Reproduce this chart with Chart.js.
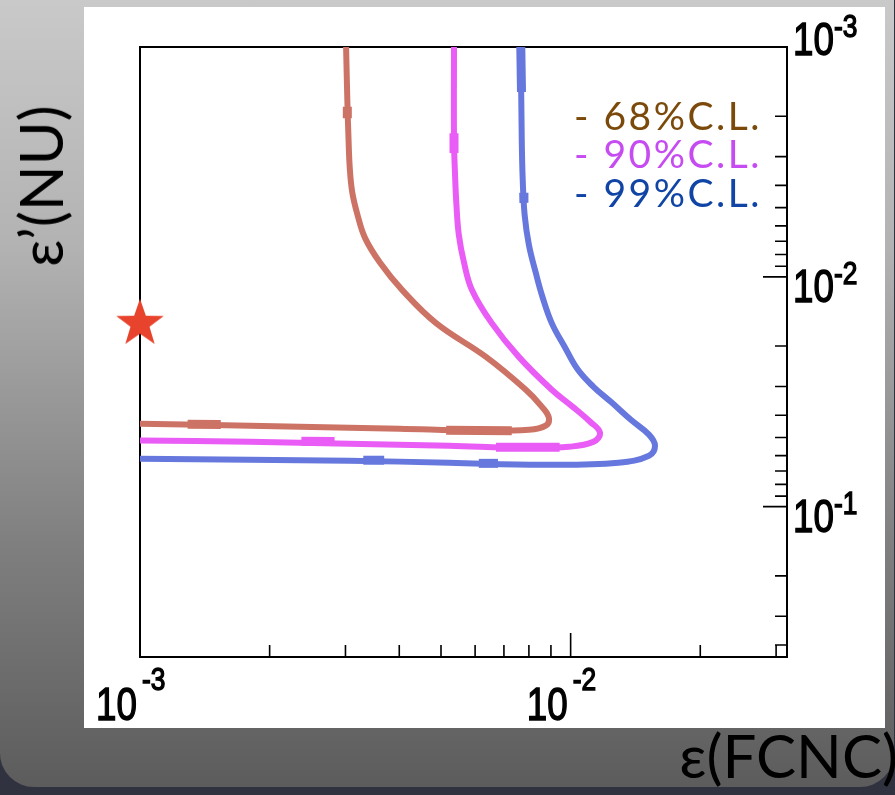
<!DOCTYPE html>
<html>
<head>
<meta charset="utf-8">
<script src="https://cdn.jsdelivr.net/npm/chart.js@4.4.1/dist/chart.umd.min.js"></script>
<style>
  html, body { margin: 0; padding: 0; }
  body {
    width: 895px; height: 795px; position: relative; overflow: hidden;
    background: #30323f;
    font-family: Lato, "Noto Sans", sans-serif;
  }
  .slide {
    position: absolute; left: 0; top: -40px; width: 894px; height: 827px;
    border-radius: 34px;
    background: linear-gradient(to bottom, #cdcdcd 0%, #b2b2b2 35%, #808080 70%, #5c5c5c 100%);
  }
  .panel { position: absolute; left: 84px; top: 7px; width: 801px; height: 721px; background: #fff; }
  #chartBox { position: absolute; left: 0; top: 0; width: 895px; height: 795px; }
  .ytitle {
    position: absolute; left: 40px; top: 186px;
    font-size: 60px; line-height: 60px; white-space: nowrap; color: #000;
    transform: translate(-50%, -50%) rotate(-90deg);
  }
  .xtitle {
    position: absolute; right: -3px; top: 725px;
    font-size: 60px; line-height: 60px; white-space: nowrap; color: #000;
  }
  .leg {
    position: absolute; right: 133px; font-size: 39px; line-height: 39px;
    white-space: pre; letter-spacing: 2.5px;
  }
</style>
</head>
<body>
<div class="slide"></div>
<div class="panel"></div>
<div id="chartBox"><canvas id="contours" width="895" height="795"></canvas></div>
<div class="ytitle">ε’(NU)</div>
<div class="xtitle">ε(FCNC)</div>
<div class="leg" style="top:96px;color:#7b4a0a">- 68%C.L.</div>
<div class="leg" style="top:134px;color:#c64cf2">- 90%C.L.</div>
<div class="leg" style="top:173px;color:#1045a6">- 99%C.L.</div>
<script>
// contour lines (x = eps(FCNC), y = eps'(NU))
const cl68X = [0.00301, 0.00303, 0.00305, 0.00307, 0.00311, 0.00320, 0.00333, 0.00361, 0.00406, 0.00487, 0.00636, 0.00787, 0.00857, 0.00890, 0.00875, 0.00800, 0.00596, 0.00400, 0.00235, 0.00138, 0.00100];
const cl68Y = [0.00100, 0.00170, 0.00254, 0.00336, 0.00427, 0.00538, 0.00677, 0.00869, 0.0114, 0.0159, 0.0223, 0.0310, 0.0367, 0.0410, 0.0444, 0.0463, 0.0467, 0.0458, 0.0449, 0.0440, 0.0436];

const cl90X = [0.00536, 0.00536, 0.00539, 0.00543, 0.00550, 0.00565, 0.00590, 0.00656, 0.00758, 0.00904, 0.0101, 0.0111, 0.0117, 0.0113, 0.00990, 0.00782, 0.00522, 0.00306, 0.00180, 0.00100];
const cl90Y = [0.00100, 0.00254, 0.00360, 0.00486, 0.00657, 0.00861, 0.0114, 0.0159, 0.0223, 0.0310, 0.0367, 0.0427, 0.0477, 0.0522, 0.0549, 0.0554, 0.0543, 0.0532, 0.0522, 0.0516];

const cl99X = [0.00766, 0.00770, 0.00774, 0.00782, 0.00800, 0.00830, 0.00861, 0.00904, 0.00969, 0.0104, 0.0113, 0.0124, 0.0138, 0.0152, 0.0157, 0.0152, 0.0129, 0.00861, 0.00522, 0.00306, 0.00180, 0.00100];
const cl99Y = [0.00100, 0.00254, 0.00379, 0.00538, 0.00726, 0.00961, 0.0123, 0.0159, 0.0202, 0.0254, 0.0301, 0.0350, 0.0419, 0.0486, 0.0543, 0.0600, 0.0644, 0.0657, 0.0644, 0.0631, 0.0625, 0.0619];

// heavier pieces where the contour segments overlap: [x1, y1, x2, y2]
const cl68Thick = [[0.00303, 0.00182, 0.00303, 0.00204], [0.00129, 0.0438, 0.00154, 0.0439], [0.00514, 0.0465, 0.00730, 0.0467]];
const cl90Thick = [[0.00536, 0.00237, 0.00536, 0.00289], [0.00237, 0.0519, 0.00283, 0.0521], [0.00671, 0.0552, 0.00943, 0.0552]];
const cl99Thick = [[0.00766, 0.00100, 0.00769, 0.00157], [0.00778, 0.00431, 0.00779, 0.00477], [0.00330, 0.0628, 0.00369, 0.0628], [0.00612, 0.0648, 0.00678, 0.0648]];

// best fit point
const starX = [0.001];
const starY = [0.0160];

// axes
const xRange = [0.001, 0.0318];
const yRange = [0.001, 0.451];
const xMajorTicks = [0.001, 0.01];
const xMajorExp = ["-3", "-2"];
const xMinorTicks = [0.002, 0.003, 0.004, 0.005, 0.006, 0.007, 0.008, 0.009, 0.02, 0.03];
const yMajorTicks = [0.001, 0.01, 0.1];
const yMajorExp = ["-3", "-2", "-1"];
const yMinorTicks = [0.002, 0.003, 0.004, 0.005, 0.006, 0.007, 0.008, 0.009,
                     0.02, 0.03, 0.04, 0.05, 0.06, 0.07, 0.08, 0.09, 0.2, 0.3, 0.4];

const toPoints = (xs, ys) => xs.map((x, i) => ({ x: x, y: ys[i] }));

function makeStar(r, color) {
    const c = document.createElement("canvas");
    const s = Math.ceil(r * 2 + 4);
    c.width = c.height = s;
    const g = c.getContext("2d");
    g.fillStyle = color;
    g.beginPath();
    for (let i = 0; i < 10; i++) {
        const rad = i % 2 ? r * 0.4 : r;
        const ang = -Math.PI / 2 + i * Math.PI / 5;
        g.lineTo(s / 2 + rad * Math.cos(ang), s / 2 + rad * Math.sin(ang));
    }
    g.closePath();
    g.fill();
    return c;
}

const frameAndTicks = {
    id: "frameAndTicks",
    beforeDatasetsDraw(chart) {
        const { ctx, chartArea: a, scales: { x, y } } = chart;
        ctx.save();
        ctx.strokeStyle = "#000";
        ctx.lineWidth = 1.6;
        ctx.beginPath();
        xMinorTicks.forEach(v => {
            const px = x.getPixelForValue(v);
            ctx.moveTo(px, a.bottom); ctx.lineTo(px, a.bottom - 12);
        });
        xMajorTicks.forEach(v => {
            const px = x.getPixelForValue(v);
            ctx.moveTo(px, a.bottom); ctx.lineTo(px, a.bottom - 24);
        });
        yMinorTicks.forEach(v => {
            const py = y.getPixelForValue(v);
            ctx.moveTo(a.right, py); ctx.lineTo(a.right - 12, py);
        });
        yMajorTicks.forEach(v => {
            const py = y.getPixelForValue(v);
            ctx.moveTo(a.right, py); ctx.lineTo(a.right - 24, py);
        });
        ctx.stroke();
        ctx.lineWidth = 2;
        ctx.strokeRect(a.left, a.top, a.right - a.left, a.bottom - a.top);
        ctx.restore();
    },
    afterDraw(chart) {
        const { ctx, chartArea: a, scales: { x, y } } = chart;
        ctx.save();
        ctx.fillStyle = "#000";
        ctx.strokeStyle = "#000";
        const write = (txt, px, py, size, sx, align) => {
            ctx.save();
            ctx.translate(px, py);
            ctx.scale(sx, 1);
            ctx.font = size + "px 'Liberation Sans', Arial, sans-serif";
            ctx.textAlign = align;
            ctx.textBaseline = "alphabetic";
            ctx.lineWidth = 1.4;
            ctx.fillText(txt, 0, 0);
            ctx.strokeText(txt, 0, 0);
            ctx.restore();
        };
        xMajorTicks.forEach((v, i) => {
            const px = x.getPixelForValue(v);
            write("10", px - 3, a.bottom + 63, 46, 0.8, "right");
            write(xMajorExp[i], px + 2, a.bottom + 33, 31, 0.85, "left");
        });
        yMajorTicks.forEach((v, i) => {
            let py = y.getPixelForValue(v);
            if (Math.abs(py - a.top) < 1) py -= 17;
            write("10", a.right + 6, py + 25, 46, 0.8, "left");
            write(yMajorExp[i], a.right + 47, py + 7, 31, 0.85, "left");
        });
        ctx.restore();
    }
};

const lineSet = (label, xs, ys, color) => ({
    label: label,
    data: toPoints(xs, ys),
    showLine: true,
    borderColor: color,
    borderWidth: 6,
    borderJoinStyle: "round",
    pointRadius: 0,
    tension: 0.4,
    fill: false
});

const thickSets = (segs, color) => segs.map(s => ({
    label: "",
    data: [{ x: s[0], y: s[1] }, { x: s[2], y: s[3] }],
    showLine: true,
    borderColor: color,
    borderWidth: 9,
    pointRadius: 0,
    fill: false
}));

new Chart(document.getElementById("contours"), {
    type: "scatter",
    data: {
        datasets: [
            lineSet("68%C.L.", cl68X, cl68Y, "#cd7366"),
            lineSet("90%C.L.", cl90X, cl90Y, "#e95cf5"),
            lineSet("99%C.L.", cl99X, cl99Y, "#6677dd"),
            ...thickSets(cl68Thick, "#cd7366"),
            ...thickSets(cl90Thick, "#e95cf5"),
            ...thickSets(cl99Thick, "#6677dd"),
            {
                label: "best fit",
                data: toPoints(starX, starY),
                pointStyle: makeStar(25, "#e8432c"),
                clip: false
            }
        ]
    },
    options: {
        responsive: false,
        animation: false,
        layout: { padding: { left: 140, right: 108, top: 47, bottom: 138 } },
        scales: {
            x: { type: "logarithmic", min: xRange[0], max: xRange[1], display: false },
            y: { type: "logarithmic", min: yRange[0], max: yRange[1], reverse: true, display: false }
        },
        plugins: {
            legend: { display: false },
            tooltip: { enabled: false }
        }
    },
    plugins: [frameAndTicks]
});
</script>
</body>
</html>
